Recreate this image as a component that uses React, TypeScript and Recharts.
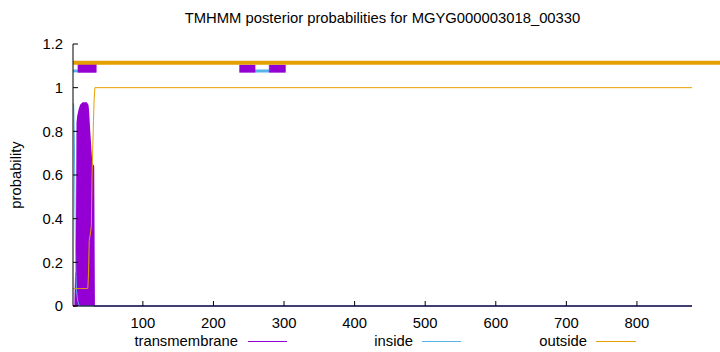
import {
  ComposedChart,
  Area,
  Line,
  XAxis,
  YAxis,
  ReferenceArea,
  ReferenceLine,
} from "recharts";

const positions = [1, 2, 3, 4, 5, 6, 7, 8, 10, 12, 15, 20, 22, 23, 24, 25, 26, 27, 28, 30, 31, 32, 878];
const transmembrane = [0, 0, 0, 0, 0.15, 0.15, 0.84, 0.87, 0.9, 0.92, 0.93, 0.93, 0.92, 0.88, 0.82, 0.77, 0.72, 0.67, 0.65, 0.64, 0, 0, 0];
const inside = [0.93, 0.92, 0.75, 0.4, 0.15, 0.07, 0.04, 0.02, 0, 0, 0, 0, 0, 0, 0, 0, 0, 0, 0, 0, 0, 0, 0];
const outside = [0.08, 0.08, 0.08, 0.08, 0.08, 0.08, 0.08, 0.08, 0.08, 0.08, 0.08, 0.08, 0.08, 0.15, 0.3, 0.32, 0.34, 0.37, 0.6, 0.85, 0.95, 1, 1];

// predicted topology bars drawn above the curves
const tmSegments = [
  [8, 34, 1.113],
  [237, 259, 1.104],
  [279, 302, 1.104],
];
const insideSegments = [
  [1, 8],
  [259, 279],
];
const outsideBar = [1, 920];

const xTicks = [100, 200, 300, 400, 500, 600, 700, 800];
const yTicks = [0, 0.2, 0.4, 0.6, 0.8, 1, 1.2];

const PURPLE = "#9400d3";
const BLUE = "#56b4e9";
const ORANGE = "#e69f00";
const FONT = "'Liberation Sans', Arial, sans-serif";
const FS = 14.8;

const data = positions.map((pos, i) => ({
  pos,
  tm: transmembrane[i],
  inside: inside[i],
  outside: outside[i],
}));

const legendItems = [
  { label: "transmembrane", color: PURPLE, textEnd: 238, x1: 248, x2: 287 },
  { label: "inside", color: BLUE, textEnd: 413, x1: 422, x2: 461 },
  { label: "outside", color: ORANGE, textEnd: 587, x1: 596, x2: 636 },
];

export default function App() {
  const tickStyle = { fontFamily: FONT, fontSize: FS, fill: "#000" };
  return (
    <div style={{ position: "absolute", left: 0, top: 0, width: 720, height: 352, background: "#fff" }}>
      <ComposedChart
        width={720}
        height={352}
        data={data}
        margin={{ top: 44, right: 28, bottom: 0, left: 0 }}
      >
        <XAxis
          dataKey="pos"
          type="number"
          domain={[1, 878]}
          ticks={xTicks}
          allowDataOverflow
          height={46}
          tickSize={-5}
          tickMargin={16}
          stroke="#000"
          tick={tickStyle}
        />
        <XAxis
          xAxisId="top"
          orientation="top"
          type="number"
          domain={[1, 878]}
          ticks={xTicks}
          height={0}
          tickSize={-5}
          tick={false}
          stroke="#000"
        />
        <YAxis
          type="number"
          domain={[0, 1.2]}
          ticks={yTicks}
          width={73}
          tickSize={-5}
          tickMargin={15}
          stroke="#000"
          tick={tickStyle}
        />
        <YAxis
          yAxisId="right"
          orientation="right"
          type="number"
          domain={[0, 1.2]}
          ticks={yTicks}
          width={0}
          tickSize={-5}
          tick={false}
          stroke="#000"
        />
        <Area
          type="linear"
          dataKey="tm"
          stroke={PURPLE}
          strokeWidth={1.5}
          fill={PURPLE}
          fillOpacity={1}
          dot={false}
          activeDot={false}
          isAnimationActive={false}
        />
        <Line
          type="linear"
          dataKey="inside"
          stroke={BLUE}
          strokeWidth={1}
          dot={false}
          activeDot={false}
          isAnimationActive={false}
        />
        <Line
          type="linear"
          dataKey="outside"
          stroke={ORANGE}
          strokeWidth={1}
          dot={false}
          activeDot={false}
          isAnimationActive={false}
        />
        <ReferenceLine
          segment={[
            { x: outsideBar[0], y: 1.114 },
            { x: outsideBar[1], y: 1.114 },
          ]}
          stroke={ORANGE}
          strokeWidth={4}
          ifOverflow="visible"
        />
        {insideSegments.map(([a, b], i) => (
          <ReferenceArea
            key={"in" + i}
            x1={a}
            x2={b}
            y1={1.07}
            y2={1.083}
            fill={BLUE}
            fillOpacity={1}
            stroke="none"
            ifOverflow="visible"
          />
        ))}
        {tmSegments.map(([a, b, top], i) => (
          <ReferenceArea
            key={"tm" + i}
            x1={a}
            x2={b}
            y1={1.07}
            y2={top}
            fill={PURPLE}
            fillOpacity={1}
            stroke={PURPLE}
            strokeOpacity={0.5}
            ifOverflow="visible"
          />
        ))}
      </ComposedChart>
      <svg
        width={720}
        height={352}
        style={{ position: "absolute", left: 0, top: 0, pointerEvents: "none" }}
        fontFamily={FONT}
        fontSize={FS}
      >
        <text x={382.5} y={23} textAnchor="middle" fill="#000">
          TMHMM posterior probabilities for MGYG000003018_00330
        </text>
        <text x={21} y={175} textAnchor="middle" fill="#000" transform="rotate(-90 21 175)">
          probability
        </text>
        {legendItems.map((it) => (
          <g key={it.label}>
            <text x={it.textEnd} y={346} textAnchor="end" fill="#000">
              {it.label}
            </text>
            <line x1={it.x1} x2={it.x2} y1={341.5} y2={341.5} stroke={it.color} strokeWidth={1} />
          </g>
        ))}
      </svg>
    </div>
  );
}
